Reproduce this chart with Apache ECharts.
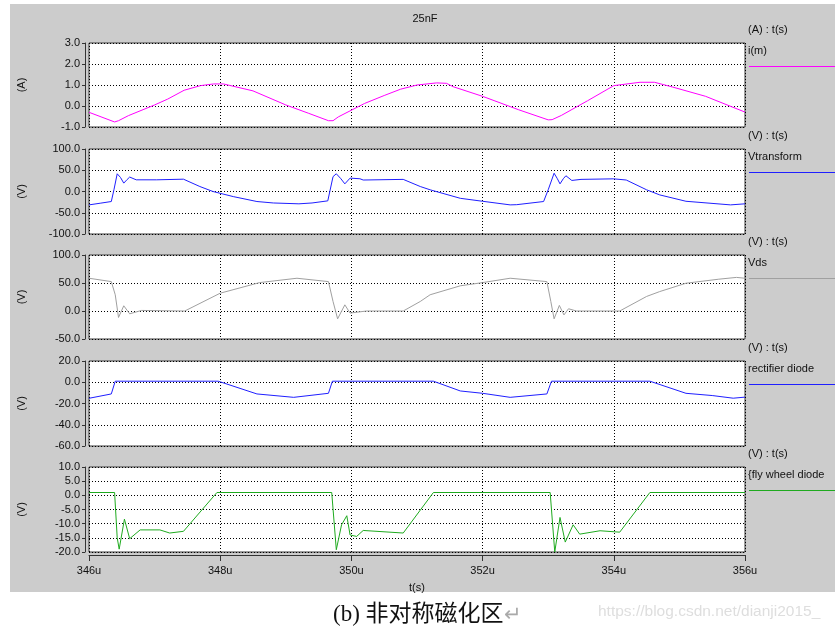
<!DOCTYPE html>
<html>
<head>
<meta charset="utf-8">
<script src="https://cdn.jsdelivr.net/npm/echarts@6/dist/echarts.min.js"></script>
<style>html,body{margin:0;padding:0;background:#fff;}#c{width:835px;height:629px;}</style>
</head>
<body>
<div id="c"></div>
<script>
// ---- data ----
var xTicks = [346, 348, 350, 352, 354, 356];
var imT = [346.0,346.39,346.45,346.6,347.0,347.2,347.45,347.7,347.9,348.05,348.5,349.0,349.35,349.65,349.72,349.8,350.2,350.5,350.75,351.0,351.3,351.45,351.55,352.0,352.55,353.0,353.06,353.2,353.6,354.0,354.4,354.62,354.9,355.4,356.0];
var imV = [-0.30,-0.76,-0.70,-0.46,0.05,0.33,0.75,0.97,1.05,1.05,0.72,0.05,-0.35,-0.70,-0.70,-0.52,0.12,0.50,0.80,1.0,1.10,1.08,0.92,0.46,-0.18,-0.66,-0.65,-0.45,0.25,0.97,1.13,1.13,0.90,0.46,-0.29];
var vtT = [346.0,346.17,346.34,346.38,346.43,346.48,346.53,346.58,346.62,346.72,347.03,347.44,347.69,347.89,348.2,348.56,348.81,349.2,349.4,349.64,349.72,349.77,349.84,349.9,349.98,350.13,350.18,350.79,351.05,351.2,351.66,352.0,352.42,352.52,352.93,353.0,353.09,353.14,353.18,353.23,353.27,353.36,353.5,354.0,354.19,354.5,354.7,355.1,355.78,356.0];
var vtV = [-31.5,-27.6,-23.6,4,41.7,33,19.7,28,34,27.5,27.5,29,11.7,0,-12,-23.6,-27,-29,-27,-22,35,41.7,30,18,31.5,30,27,28.5,11.7,4,-16,-23,-31.5,-31,-23.6,4,43,30,18,30,37,26,28.5,29.8,27,4,-8,-23,-31.5,-29];
var vdsT = [346.0,346.34,346.40,346.45,346.53,346.62,346.8,347.46,348.0,348.6,349.17,349.65,349.72,349.79,349.9,349.98,350.23,350.79,351.05,351.2,351.66,352.0,352.42,352.98,353.04,353.09,353.17,353.24,353.31,353.43,354.09,354.5,354.7,355.1,355.6,355.87,356.0];
var vdsV = [58.5,52.5,29,-11.5,9.3,-5,1,0,31.8,50.7,58.5,52.5,17,-14,11,-3.7,0,0,17,29,45,50.7,58.5,52.5,17,-14,10,-7,4,0,0,26,34.7,49.6,56.8,60,58.5];
var rdT = [346.0,346.34,346.40,347.97,348.56,349.12,349.65,349.71,351.25,351.66,352.0,352.42,352.98,353.05,354.55,355.1,355.5,355.82,356.0];
var rdV = [-15.1,-11,1,1,-11,-14.2,-10.4,1,1,-8.2,-10.4,-14.2,-11,1,1,-10.4,-12.5,-15,-14];
var fwT = [346.0,346.39,346.43,346.46,346.54,346.62,346.78,347.08,347.23,347.44,347.95,349.70,349.77,349.85,349.93,349.98,350.08,350.18,350.79,351.25,353.03,353.10,353.18,353.26,353.38,353.48,353.79,354.09,354.55,356.0];
var fwV = [1,1,-15,-19,-8.4,-15.3,-12.2,-12.2,-13.3,-12.7,1,1,-19.2,-10.4,-7.2,-14,-14.5,-12.4,-13.3,1,1,-20,-7.8,-16.5,-10.4,-13.7,-12.5,-13,1,1];
var yMins = [-1, -100, -50, -60, -20];
var yMaxs = [3, 100, 100, 20, 10];
var yIntervals = [1, 50, 50, 20, 5];
var yUnits = ['(A)', '(V)', '(V)', '(V)', '(V)'];
var axisTitles = ['(A) : t(s)', '(V) : t(s)', '(V) : t(s)', '(V) : t(s)', '(V) : t(s)'];
var seriesNames = ['i(m)', 'Vtransform', 'Vds', 'rectifier diode', '{fly wheel diode'];
var chartTitle = '25nF';
var xName = 't(s)';
var caption = '(b) 非对称磁化区';

// ---- layout ----
var tops = [43, 149, 255, 361, 467];
var heights = [84, 85, 84, 85, 85];
var colors = ['#ff00ff', '#1f1fff', '#a0a0a0', '#1f1fff', '#1faa1f'];
var times = [imT, vtT, vdsT, rdT, fwT];
var vals = [imV, vtV, vdsV, rdV, fwV];
var font = '"Liberation Sans", Arial, sans-serif';

function zip(a, b) { return a.map(function (t, i) { return [t, b[i]]; }); }

var grids = [], xAxes = [], yAxes = [], series = [], graphics = [];
graphics.push({ type: 'rect', shape: { x: 10, y: 4, width: 825, height: 588 }, style: { fill: '#cccccc' }, z: -10 });

for (var i = 0; i < 5; i++) {
  var last = i === 4;
  grids.push({ left: 89, width: 656, top: tops[i], height: heights[i], show: true, backgroundColor: '#ffffff', borderColor: '#3a3a3a', borderWidth: 1 });
  xAxes.push({
    type: 'value', gridIndex: i, min: 346, max: 356, interval: 2,
    offset: last ? 3 : 0,
    axisLine: { show: last, onZero: false, lineStyle: { color: '#333', width: 1 } },
    axisTick: { show: last, length: 6, lineStyle: { color: '#333' } },
    axisLabel: { show: last, color: '#111', fontFamily: font, fontSize: 11, margin: 10, formatter: function (v) { return v + 'u'; } },
    splitLine: { show: true, lineStyle: { color: '#000', type: [1, 2], width: 1 } },
    name: last ? xName : '', nameLocation: 'middle', nameGap: 27,
    nameTextStyle: { color: '#111', fontFamily: font, fontSize: 11 }
  });
  yAxes.push({
    type: 'value', gridIndex: i, min: yMins[i], max: yMaxs[i], interval: yIntervals[i],
    offset: 4,
    axisLine: { show: true, onZero: false, lineStyle: { color: '#333', width: 1 } },
    axisTick: { show: true, length: 3, lineStyle: { color: '#333' } },
    axisLabel: { color: '#111', fontFamily: font, fontSize: 11, margin: 5, formatter: function (v) { return v.toFixed(1); } },
    splitLine: { show: true, lineStyle: { color: '#000', type: [1, 2], width: 1 } },
    name: yUnits[i], nameLocation: 'middle', nameRotate: 90, nameGap: 58,
    nameTextStyle: { color: '#111', fontFamily: font, fontSize: 11 }
  });
  series.push({
    type: 'line', name: seriesNames[i], xAxisIndex: i, yAxisIndex: i,
    data: zip(times[i], vals[i]), showSymbol: false, symbol: 'none',
    lineStyle: { color: colors[i], width: 1 }, clip: true, animation: false
  });
  graphics.push({ type: 'text', x: 748, y: tops[i] - 13, style: { text: axisTitles[i], fill: '#111', font: '11px ' + font, textVerticalAlign: 'middle' } });
  graphics.push({ type: 'text', x: 748, y: tops[i] + 8, style: { text: seriesNames[i], fill: '#111', font: '11px ' + font, textVerticalAlign: 'middle' } });
  graphics.push({ type: 'line', shape: { x1: 749, y1: tops[i] + 23.5, x2: 835, y2: tops[i] + 23.5 }, style: { stroke: colors[i], lineWidth: 1 } });
}

graphics.push({ type: 'text', x: 333, y: 615, style: { text: caption + '{r|↵}', rich: { r: { fill: '#aaaaaa', font: '21px "Liberation Serif", "Noto Sans CJK SC", serif' } }, fill: '#111', font: '23px "Liberation Serif", "Noto Sans CJK SC", serif', textVerticalAlign: 'middle' } });
graphics.push({ type: 'text', x: 598, y: 612, style: { text: 'https://blog.csdn.net/dianji2015_', fill: '#dedede', font: '15.5px ' + font, textVerticalAlign: 'middle' } });

var chart = echarts.init(document.getElementById('c'), null, { renderer: 'canvas' });
chart.setOption({
  animation: false,
  backgroundColor: '#ffffff',
  title: { text: chartTitle, left: 420, top: 8, textAlign: 'center', textStyle: { color: '#111', fontFamily: font, fontSize: 11, fontWeight: 'normal' } },
  grid: grids, xAxis: xAxes, yAxis: yAxes, series: series, graphic: graphics
});
</script>
</body>
</html>
